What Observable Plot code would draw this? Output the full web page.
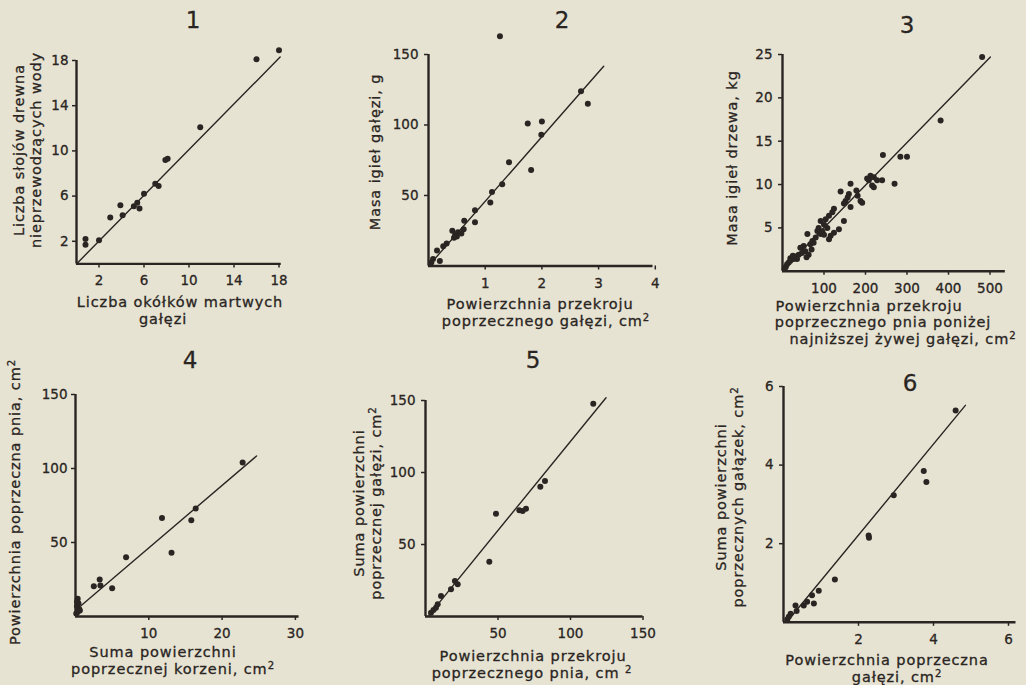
<!DOCTYPE html>
<html><head><meta charset="utf-8">
<script src="https://cdn.jsdelivr.net/npm/d3@7"></script>
<script src="https://cdn.jsdelivr.net/npm/@observablehq/plot@0.6"></script>
<style>
html,body{margin:0;padding:0;background:#e6e3d3;}
#page{position:relative;width:1026px;height:685px;overflow:hidden;background:#e6e3d3;}
.t{position:absolute;white-space:nowrap;color:#2a2522;font-family:'DejaVu Sans',sans-serif;font-size:14.5px;letter-spacing:0.9px;line-height:1;-webkit-text-stroke:0.3px #2a2522;}
.t sup{font-size:0.7em;line-height:0;vertical-align:0.45em;}
.num{font-size:23px;letter-spacing:0;}
svg{position:absolute;}
svg text{stroke:#2a2522;stroke-width:0.3px;}
</style></head>
<body><div id="page"></div>
<script>
// ---------- data ----------
// Panel 1
const p1x = [18, 16, 11, 7.9, 8.1, 7.0, 7.3, 6.0, 5.1, 5.4, 5.6, 3.9, 4.1, 3.0, 2.0, 0.8, 0.8];
const p1y = [18.9, 18.1, 12.1, 9.2, 9.3, 7.1, 6.9, 6.2, 5.1, 5.4, 4.9, 5.2, 4.3, 4.1, 2.1, 2.2, 1.7];
const fit1x = [0, 18.1], fit1y = [0, 18.3];
const p1xTicks = [2, 6, 10, 14, 18], p1yTicks = [2, 6, 10, 14, 18];

// Panel 2
const p2x = [1.26, 2.69, 2.81, 1.75, 2.0, 1.99, 1.81, 1.42, 1.3, 1.12, 1.09, 0.82, 0.82, 0.63, 0.42, 0.47, 0.52, 0.58, 0.62, 0.5, 0.45, 0.32, 0.26, 0.15, 0.08, 0.2, 0.05];
const p2y = [163, 124, 115, 101, 102.5, 93, 68, 73.5, 58, 52.5, 45, 39.5, 31, 32, 25, 22, 24, 23, 26, 21, 20, 16, 14, 11, 5, 3.5, 2.5];
const fit2x = [0, 3.09], fit2y = [0, 141.7];
const p2xTicks = [1, 2, 3, 4], p2yTicks = [50, 100, 150];

// Panel 3
const p3x = [481, 381, 242, 284, 300, 270, 212, 220, 204, 208, 228, 240, 216, 220, 164, 140, 160, 157, 178, 181, 188, 192, 152, 148, 164, 124, 120, 112, 104, 92, 100, 87, 148, 136, 124, 116, 112, 84, 92, 80, 72, 67, 75, 60, 51, 43, 55, 63, 47, 39, 31, 35, 27, 19, 15, 11, 19, 8, 5, 25, 70, 58, 100, 108, 96];
const p3y = [24.7, 17.4, 13.4, 13.2, 13.2, 10.1, 11.0, 10.85, 10.7, 10.5, 10.5, 10.5, 9.9, 9.7, 10.1, 9.2, 8.9, 8.5, 9.3, 8.7, 8.1, 7.9, 8.1, 7.8, 7.4, 7.2, 6.8, 6.4, 6.0, 5.8, 5.4, 5.0, 5.8, 4.85, 4.45, 4.1, 3.7, 4.65, 4.3, 3.9, 3.5, 3.1, 3.3, 4.3, 2.9, 2.7, 2.3, 1.9, 2.1, 1.9, 1.7, 1.4, 1.4, 1.2, 1.0, 0.8, 1.5, 0.5, 0.3, 1.8, 2.5, 1.6, 4.2, 5.0, 4.6];
const fit3x = [2, 501], fit3y = [0.2, 24.7];
const p3xTicks = [100, 200, 300, 400, 500], p3yTicks = [5, 10, 15, 20, 25];

// Panel 4
const p4x = [22.8, 16.4, 15.8, 11.8, 13.1, 6.9, 3.3, 2.5, 3.4, 5.0, 0.3, 0.4, 0.2, 0.5, 0.3, 0.1, 0.6, 0.2];
const p4y = [104, 73, 65, 66.5, 43, 40, 25, 20.5, 21, 19, 12, 9, 7, 5, 3, 2, 4, 10];
const fit4x = [0.7, 24.7], fit4y = [7.1, 108.4];
const p4xTicks = [10, 20, 30], p4yTicks = [50, 100, 150];

// Panel 5
const p5x = [115.7, 79.2, 82.4, 64.7, 67, 69.3, 48.6, 44, 20.3, 22.2, 17.6, 10.7, 8.4, 7.2, 3.8, 5.5];
const p5y = [147.8, 90.1, 94.1, 73.7, 73.3, 74.9, 71.4, 38.1, 24.7, 22.4, 18.9, 14.2, 8.5, 6.1, 2.6, 4.5];
const fit5x = [1.9, 124.5], fit5y = [0.3, 151.9];
const p5xTicks = [50, 100, 150], p5yTicks = [50, 100, 150];

// Panel 6
const p6x = [4.59, 3.74, 3.81, 2.94, 2.27, 2.28, 1.37, 0.94, 0.76, 0.81, 0.63, 0.54, 0.32, 0.35, 0.19, 0.14, 0.1];
const p6y = [5.39, 3.85, 3.57, 3.23, 2.21, 2.15, 1.09, 0.80, 0.69, 0.48, 0.52, 0.43, 0.43, 0.29, 0.22, 0.14, 0.07];
const fit6x = [0.1, 4.85], fit6y = [0.02, 5.52];
const p6xTicks = [2, 4, 6], p6yTicks = [2, 4, 6];

// ---------- layout ----------
const INK = "#2a2522";
const page = document.getElementById("page");
const pts = (xs, ys) => xs.map((x, i) => ({x, y: ys[i]}));
const fmt = d => String(d);

function panel(o) {
  const mL = 40, mR = 24, mT = 30, mB = 34;
  const w = mL + o.xMax * o.kx + mR, h = mT + o.yMax * o.ky + mB;
  const chart = Plot.plot({
    width: w, height: h, marginLeft: mL, marginRight: mR, marginTop: mT, marginBottom: mB,
    x: {domain: [0, o.xMax]}, y: {domain: [0, o.yMax]},
    style: {background: "transparent", color: INK, fontFamily: "'DejaVu Sans', sans-serif", fontSize: "13.5px", overflow: "visible"},
    marks: [
      Plot.ruleY([0], {x1: 0, x2: o.xMax, stroke: INK, strokeWidth: 2.4}),
      Plot.ruleX([0], {y1: 0, y2: o.yAxisMax, stroke: INK, strokeWidth: 2.4}),
      Plot.axisX({ticks: o.xTicks, tickFormat: fmt, tickSize: 4, tickPadding: 8, label: null, strokeWidth: 1.5}),
      Plot.axisY({ticks: o.yTicks, tickFormat: fmt, tickSize: 4, tickPadding: o.yPad ?? 4, label: null, strokeWidth: 1.5}),
      Plot.line(pts(o.fx, o.fy), {x: "x", y: "y", stroke: INK, strokeWidth: 1.4}),
      Plot.dot(pts(o.xs, o.ys), {x: "x", y: "y", r: 3, fill: INK, stroke: "none"})
    ]
  });
  chart.style.left = (o.ox - mL) + "px";
  chart.style.top = (o.oy - o.yMax * o.ky - mT) + "px";
  page.appendChild(chart);
}

function txt(html, x, y, cls = "", rot = false) {
  const d = document.createElement("div");
  d.className = "t " + cls;
  d.innerHTML = html;
  d.style.left = x + "px";
  d.style.top = y + "px";
  d.style.transform = "translate(-50%,-50%)" + (rot ? " rotate(-90deg)" : "");
  page.appendChild(d);
}

panel({xs: p1x, ys: p1y, fx: fit1x, fy: fit1y, xTicks: p1xTicks, yTicks: p1yTicks, xMax: 18.2, yMax: 18, yAxisMax: 18, ox: 75.5, oy: 263.3, kx: 11.25, ky: 11.3});
panel({xs: p2x, ys: p2y, fx: fit2x, fy: fit2y, xTicks: p2xTicks, yTicks: p2yTicks, xMax: 3.96, yMax: 150, yAxisMax: 150, ox: 427.5, oy: 265.5, kx: 56.7, ky: 1.41, yPad: 6});
panel({xs: p3x, ys: p3y, fx: fit3x, fy: fit3y, xTicks: p3xTicks, yTicks: p3yTicks, xMax: 537, yMax: 25, yAxisMax: 25, ox: 782, oy: 270.5, kx: 0.415, ky: 8.67, yPad: 6});
panel({xs: p4x, ys: p4y, fx: fit4x, fy: fit4y, xTicks: p4xTicks, yTicks: p4yTicks, xMax: 30.5, yMax: 150, yAxisMax: 150, ox: 75, oy: 615.5, kx: 7.33, ky: 1.48});
panel({xs: p5x, ys: p5y, fx: fit5x, fy: fit5y, xTicks: p5xTicks, yTicks: p5yTicks, xMax: 150, yMax: 150, yAxisMax: 150, ox: 424.5, oy: 615.5, kx: 1.45, ky: 1.44, yPad: 6});
panel({xs: p6x, ys: p6y, fx: fit6x, fy: fit6y, xTicks: p6xTicks, yTicks: p6yTicks, xMax: 6.2, yMax: 6, yAxisMax: 6, ox: 783, oy: 622, kx: 37.5, ky: 39.3, yPad: 6});

// panel numbers
txt("1", 193, 20, "num"); txt("2", 562, 20, "num"); txt("3", 907, 25, "num");
txt("4", 190, 360, "num"); txt("5", 533, 360, "num"); txt("6", 910, 383, "num");

// axis titles
txt("Liczba słojów drewna", 19, 150, "", true);
txt("nieprzewodzących wody", 36, 150, "", true);
txt("Liczba okółków martwych", 180, 302);
txt("gałęzi", 163, 319);

txt("Masa igieł gałęzi, g", 375, 152, "", true);
txt("Powierzchnia przekroju", 540, 304);
txt("poprzecznego gałęzi, cm<sup>2</sup>", 546, 321);

txt("Masa igieł drzewa, kg", 732, 158, "", true);
txt("Powierzchnia przekroju", 869, 306);
txt("poprzecznego pnia poniżej", 883, 322);
txt("najniższej żywej gałęzi, cm<sup>2</sup>", 903, 339);

txt("Powierzchnia poprzeczna pnia, cm<sup>2</sup>", 15, 502, "", true);
txt("Suma powierzchni", 163, 652);
txt("poprzecznej korzeni, cm<sup>2</sup>", 173, 669);

txt("Suma powierzchni", 359, 503, "", true);
txt("poprzecznej gałęzi, cm<sup>2</sup>", 376, 503, "", true);
txt("Powierzchnia przekroju", 533, 656);
txt("poprzecznego pnia, cm <sup>2</sup>", 532, 673);

txt("Suma powierzchni", 721, 497, "", true);
txt("poprzecznych gałązek, cm<sup>2</sup>", 738, 497, "", true);
txt("Powierzchnia poprzeczna", 887, 660);
txt("gałęzi, cm<sup>2</sup>", 897, 677);
</script></body></html>
